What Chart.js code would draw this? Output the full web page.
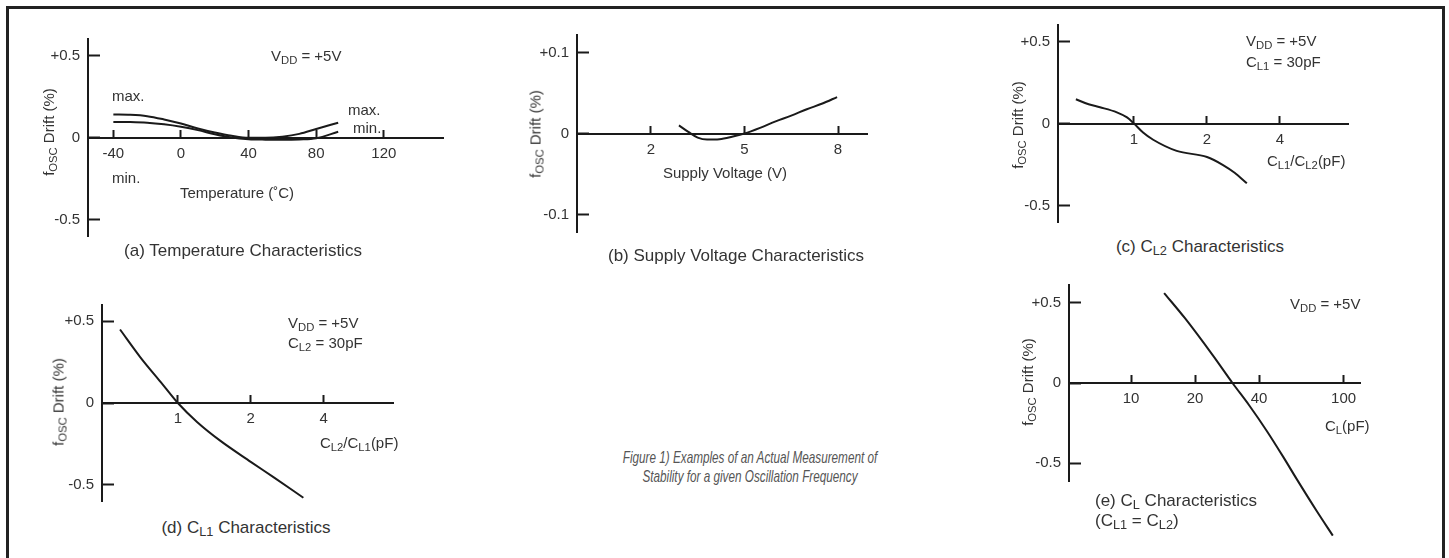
<!DOCTYPE html>
<html>
<head>
<meta charset="utf-8">
<script src="https://cdn.jsdelivr.net/npm/chart.js@4.4.1/dist/chart.umd.min.js"></script>
<style>
  body { margin: 0; background: #fff; }
  #page { position: relative; width: 1449px; height: 558px; overflow: hidden; font-family: "Liberation Sans", Arial, sans-serif; color: #333; }
  .frame { position: absolute; left: 6px; top: 6px; width: 1433px; height: 600px; border: 3px solid #222; border-bottom: none; }
  canvas { position: absolute; }
  .t { position: absolute; white-space: nowrap; font-size: 15px; line-height: 1; }
  .c { transform: translate(-50%, -50%); }
  .l { transform: translateY(-50%); }
  .rot { transform: translate(-50%, -50%) rotate(-90deg); }
  .cap { font-size: 17px; }
  sub { font-size: 0.75em; vertical-align: -0.3em; line-height: 0; }
  .fig { font-size: 17px; font-style: italic; color: #555; text-align: center; line-height: 19px; transform: translate(-50%, -50%) scaleX(0.69); }
</style>
</head>
<body>
<div id="page">
  <div class="frame"></div>

  <canvas id="chartA"></canvas>
  <canvas id="chartB"></canvas>
  <canvas id="chartC"></canvas>
  <canvas id="chartD"></canvas>
  <canvas id="chartE"></canvas>

  <!-- (a) -->
  <div class="t rot" style="left:48px;top:132px">f<sub>OSC</sub> Drift (%)</div>
  <div class="t l" style="left:271px;top:55px">V<sub>DD</sub> = +5V</div>
  <div class="t l" style="left:112px;top:95px">max.</div>
  <div class="t l" style="left:112px;top:177px">min.</div>
  <div class="t l" style="left:348px;top:109px">max.</div>
  <div class="t l" style="left:353px;top:127px">min.</div>
  <div class="t c" style="left:237px;top:192px">Temperature (˚C)</div>
  <div class="t c cap" style="left:243px;top:250px">(a) Temperature Characteristics</div>

  <!-- (b) -->
  <div class="t rot" style="left:535px;top:134px">f<sub>OSC</sub> Drift (%)</div>
  <div class="t c" style="left:725px;top:172px">Supply Voltage (V)</div>
  <div class="t c cap" style="left:736px;top:255px">(b) Supply Voltage Characteristics</div>

  <!-- (c) -->
  <div class="t rot" style="left:1017px;top:125px">f<sub>OSC</sub> Drift (%)</div>
  <div class="t l" style="left:1246px;top:40px">V<sub>DD</sub> = +5V</div>
  <div class="t l" style="left:1246px;top:61px">C<sub>L1</sub> = 30pF</div>
  <div class="t l" style="left:1267px;top:160px">C<sub>L1</sub>/C<sub>L2</sub>(pF)</div>
  <div class="t c cap" style="left:1200px;top:246px">(c) C<sub>L2</sub> Characteristics</div>

  <!-- (d) -->
  <div class="t rot" style="left:58px;top:402px">f<sub>OSC</sub> Drift (%)</div>
  <div class="t l" style="left:288px;top:322px">V<sub>DD</sub> = +5V</div>
  <div class="t l" style="left:288px;top:342px">C<sub>L2</sub> = 30pF</div>
  <div class="t l" style="left:320px;top:442px">C<sub>L2</sub>/C<sub>L1</sub>(pF)</div>
  <div class="t c cap" style="left:246px;top:527px">(d) C<sub>L1</sub> Characteristics</div>

  <!-- (e) -->
  <div class="t rot" style="left:1027px;top:382px">f<sub>OSC</sub> Drift (%)</div>
  <div class="t l" style="left:1290px;top:303px">V<sub>DD</sub> = +5V</div>
  <div class="t l" style="left:1325px;top:425px">C<sub>L</sub>(pF)</div>
  <div class="t l cap" style="left:1095px;top:500px">(e) C<sub>L</sub> Characteristics</div>
  <div class="t l cap" style="left:1095px;top:520px">(C<sub>L1</sub> = C<sub>L2</sub>)</div>

  <div class="t fig" style="left:750px;top:467px">Figure 1) Examples of an Actual Measurement of<br>Stability for a given Oscillation Frequency</div>
</div>

<script>
// (a) temperature
const tempX = [-40, -30, -20, -10, 0, 10, 20, 30, 40, 50, 60, 70, 80, 93];
const tempMax = [0.14, 0.138, 0.13, 0.11, 0.085, 0.055, 0.03, 0.01, -0.002, -0.002, 0.005, 0.022, 0.052, 0.09];
const tempMin = [0.095, 0.094, 0.09, 0.08, 0.065, 0.045, 0.02, 0.0, -0.01, -0.013, -0.014, -0.012, -0.005, 0.035];
const tempTicks = [-40, 0, 40, 80, 120];

// (b) supply voltage
const voltX = [2.9, 3.2, 3.5, 3.8, 4.2, 4.6, 5, 5.5, 6, 6.5, 7, 7.5, 7.97];
const voltDrift = [0.01, 0.002, -0.005, -0.0075, -0.007, -0.004, 0, 0.007, 0.015, 0.022, 0.03, 0.037, 0.045];
const voltTicks = [2, 5, 8];

// (c) CL1/CL2
const cl2Ratio = [0.576, 0.65, 0.724, 0.85, 0.936, 1, 1.09, 1.2, 1.5, 2, 2.33, 2.6, 2.92];
const cl2Drift = [0.148, 0.117, 0.099, 0.068, 0.037, 0, -0.055, -0.099, -0.167, -0.204, -0.253, -0.3, -0.364];

// (d) CL2/CL1
const cl1Ratio = [0.577, 0.7, 0.85, 1, 1.2, 1.5, 2, 2.5, 3.3];
const cl1Drift = [0.45, 0.28, 0.128, 0, -0.116, -0.232, -0.36, -0.457, -0.58];
const ratioTicks = [1, 2, 4];

// (e) CL
const clValues = [14.3, 18, 24.3, 30, 36, 43.6, 52, 60.3, 75, 89];
const clDrift = [0.56, 0.40, 0.17, 0, -0.14, -0.3, -0.46, -0.6, -0.8, -0.95];
const clTicks = [10, 20, 40, 100];

const driftTicks = [-0.5, 0, 0.5];
const voltDriftTicks = [-0.1, 0, 0.1];

const ink = '#1a1a1a';
const textColor = '#333';
const YW = 80; // y axis label width

function pts(xs, ys) {
  return xs.map((x, i) => ({ x: x, y: ys[i] }));
}

function signed(v) {
  return v > 0 ? '+' + v : String(v);
}

function makeChart(id, box, xs, ys, series) {
  const padTop = 10, padRight = 20, padBottom = box.pb || 10;
  const canvas = document.getElementById(id);
  canvas.width = box.r - box.l + YW + padRight;
  canvas.height = box.b - box.t + padTop + padBottom;
  canvas.style.left = (box.l - YW) + 'px';
  canvas.style.top = (box.t - padTop) + 'px';

  new Chart(canvas, {
    type: 'line',
    data: {
      datasets: series.map(s => ({
        data: s,
        borderColor: ink,
        borderWidth: 2,
        pointRadius: 0,
        cubicInterpolationMode: 'monotone',
        fill: false,
        clip: false
      }))
    },
    options: {
      responsive: false,
      animation: false,
      events: [],
      layout: { padding: { left: 0, top: padTop, right: padRight, bottom: padBottom } },
      plugins: { legend: { display: false }, tooltip: { enabled: false } },
      scales: {
        x: {
          type: xs.type,
          min: xs.min,
          max: xs.max,
          position: { y: 0 },
          border: { display: true, color: ink, width: 2 },
          grid: { display: true, drawOnChartArea: false, drawTicks: true, tickLength: -9, tickWidth: 2, tickColor: ink },
          ticks: {
            autoSkip: false, maxRotation: 0, padding: 16,
            color: textColor, font: { family: 'Liberation Sans', size: 15 },
            callback: v => String(v)
          },
          afterBuildTicks: s => { s.ticks = xs.ticks.map(v => ({ value: v })); },
          afterFit: s => { s.paddingLeft = 0; s.paddingRight = 0; }
        },
        y: {
          type: 'linear',
          min: ys.min,
          max: ys.max,
          position: 'left',
          border: { display: true, color: ink, width: 2 },
          grid: { display: true, drawOnChartArea: false, drawTicks: true, tickLength: -12, tickWidth: 2, tickColor: ink },
          ticks: {
            autoSkip: false, padding: 20,
            color: textColor, font: { family: 'Liberation Sans', size: 15 },
            callback: v => signed(v)
          },
          afterBuildTicks: s => { s.ticks = ys.ticks.map(v => ({ value: v })); },
          afterFit: s => { s.width = YW; s.paddingTop = 0; s.paddingBottom = 0; }
        }
      }
    }
  });
}

makeChart('chartA', { l: 88, t: 39, r: 443, b: 236 },
  { type: 'linear', min: -55, max: 155, ticks: tempTicks },
  { min: -0.6, max: 0.6, ticks: driftTicks },
  [pts(tempX, tempMax), pts(tempX, tempMin)]);

makeChart('chartB', { l: 577, t: 35, r: 867, b: 232 },
  { type: 'linear', min: -0.37, max: 8.93, ticks: voltTicks },
  { min: -0.1216, max: 0.1216, ticks: voltDriftTicks },
  [pts(voltX, voltDrift)]);

makeChart('chartC', { l: 1058, t: 25, r: 1348, b: 222 },
  { type: 'logarithmic', min: 0.486, max: 7.63, ticks: ratioTicks },
  { min: -0.6, max: 0.6, ticks: driftTicks },
  [pts(cl2Ratio, cl2Drift)]);

makeChart('chartD', { l: 102, t: 305, r: 393, b: 501 },
  { type: 'logarithmic', min: 0.486, max: 7.74, ticks: ratioTicks },
  { min: -0.6, max: 0.6, ticks: driftTicks },
  [pts(cl1Ratio, cl1Drift)]);

makeChart('chartE', { l: 1069, t: 285, r: 1360, b: 481, pb: 70 },
  { type: 'logarithmic', min: 5.1, max: 119.5, ticks: clTicks },
  { min: -0.61, max: 0.61, ticks: driftTicks },
  [pts(clValues, clDrift)]);
</script>
</body>
</html>
